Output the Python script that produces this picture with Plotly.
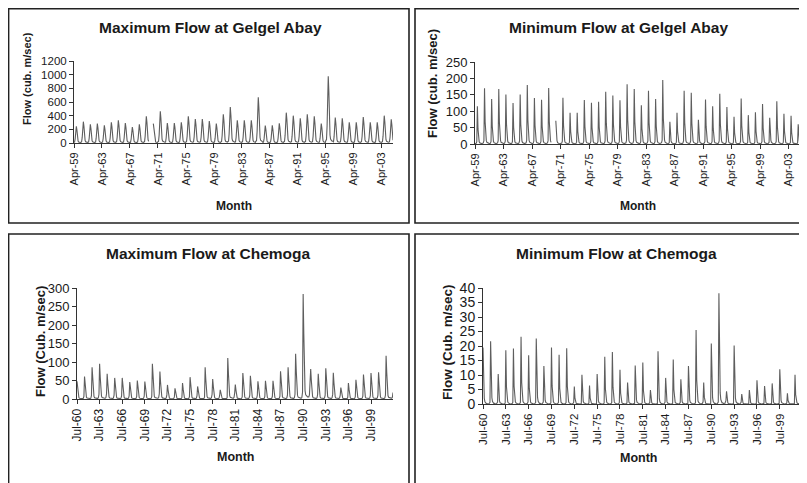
import plotly.graph_objects as go
import pandas as pd
import numpy as np

# ---------------- data ----------------
# Gelgel Abay: annual flood peaks, water years starting April 1959 .. 2004
gelgel_max_peak = [244, 312, 273, 283, 259, 302, 332, 293, 234, 273,
                   390, 283, 463, 293, 293, 302, 390, 351, 351, 322,
                   283, 420, 527, 332, 332, 332, 668, 254, 259, 288,
                   444, 400, 361, 420, 390, 283, 976, 371, 361, 302,
                   302, 380, 302, 302, 400, 346]
gelgel_min_peak = [115, 170, 137, 168, 151, 125, 151, 180, 140, 135,
                   171, 71, 141, 95, 95, 134, 126, 129, 159, 148,
                   133, 182, 168, 118, 162, 137, 195, 68, 95, 162,
                   156, 74, 136, 115, 153, 113, 83, 139, 88, 97,
                   122, 80, 130, 92, 86, 60]
# Chemoga: annual peaks, years starting July 1960 .. 2001
chemoga_max_peak = [48, 61, 86, 95, 68, 57, 57, 46, 50, 47,
                    95, 74, 38, 29, 43, 59, 34, 86, 54, 25,
                    111, 39, 70, 63, 48, 49, 49, 75, 86, 122,
                    284, 81, 68, 83, 71, 31, 43, 52, 66, 70,
                    72, 117]
chemoga_min_peak = [19.5, 21.6, 10.3, 18.5, 19.1, 23.2, 16.8, 22.6, 13.1, 19.5,
                    17.0, 19.2, 6.0, 10.1, 6.4, 10.3, 16.3, 17.9, 11.8, 7.4,
                    13.3, 14.3, 4.8, 18.2, 9.0, 15.3, 8.5, 13.1, 25.5, 7.4,
                    20.9, 38.2, 4.4, 20.2, 3.4, 4.8, 8.2, 6.2, 7.1, 12.0,
                    3.7, 10.1]

# seasonal shape of each year's hydrograph (fraction of the annual peak)
gelgel_max_shape = [0.04, 0.05, 0.25, 0.72, 1.0, 0.78, 0.32, 0.12, 0.06, 0.04, 0.03, 0.03]   # Apr..Mar
gelgel_min_shape = [0.01, 0.01, 0.02, 0.06, 1.0, 0.40, 0.14, 0.06, 0.03, 0.02, 0.01, 0.01]   # Apr..Mar
chemoga_max_shape = [1.0, 0.62, 0.25, 0.08, 0.04, 0.03, 0.02, 0.02, 0.02, 0.02, 0.04, 0.15]  # Jul..Jun
chemoga_min_shape = [1.0, 0.32, 0.10, 0.04, 0.02, 0.01, 0.01, 0.0, 0.0, 0.0, 0.01, 0.03]     # Jul..Jun

gelgel_start, gelgel_end = "1959-04-01", "2004-11-01"
chemoga_start, chemoga_end = "1960-07-01", "2002-06-01"
gelgel_gap = ("1970-01-01", "1970-07-01")      # missing record

titles = ["Maximum Flow at Gelgel Abay", "Minimum Flow at Gelgel Abay",
          "Maximum Flow at Chemoga", "Minimum Flow at Chemoga"]
ytitles = ["Flow (cub. m/sec)", "Flow (cub. m/sec)",
           "Flow (Cub. m/sec)", "Flow (Cub. m/sec)"]
xtitle = "Month"


def monthly(start, end, peaks, shape, gap=None):
    dates = pd.date_range(start, periods=len(peaks) * 12, freq="MS")
    vals = [p * f for p in peaks for f in shape]
    s = pd.Series(vals, index=dates, dtype=float)
    s = s[:end]
    if gap:
        s[gap[0]:gap[1]] = np.nan
    return list(s.index), [None if np.isnan(v) else v for v in s.values]


series = [
    monthly(gelgel_start, gelgel_end, gelgel_max_peak, gelgel_max_shape, gelgel_gap),
    monthly(gelgel_start, gelgel_end, gelgel_min_peak, gelgel_min_shape, gelgel_gap),
    monthly(chemoga_start, chemoga_end, chemoga_max_peak, chemoga_max_shape),
    monthly(chemoga_start, chemoga_end, chemoga_min_peak, chemoga_min_shape),
]

# the page puts the plot 8 px in from the window corner; the figure fills the rest
OFF = 8
W, H = 807 - OFF, 483 - OFF
def fx(x): return (x - OFF) / W
def fy(y): return 1 - (y - OFF) / H

FONT = "Liberation Sans, Arial, sans-serif"
TXT = "#1a1a1a"

# layout geometry (window pixels)
panels = [
    dict(xd=(74, 393), yd=(61, 143), yr=(0, 1200), dy=200, start=gelgel_start, end=gelgel_end, dt="M48",
         title=(210, 27), ytit=(27, 79), xtit=(234, 206), yfs=11.5, xfs=11, ytfs=11, mfs=12),
    dict(xd=(475, 800), yd=(62, 144), yr=(0, 250), dy=50, start=gelgel_start, end=gelgel_end, dt="M48",
         title=(618, 27), ytit=(432, 84), xtit=(638, 206), yfs=13, xfs=11, ytfs=13, mfs=12),
    dict(xd=(77, 393), yd=(288, 399), yr=(0, 300), dy=50, start=chemoga_start, end=chemoga_end, dt="M36",
         title=(208, 253), ytit=(40, 342), xtit=(235, 457), yfs=13, xfs=12, ytfs=13, mfs=12.5),
    dict(xd=(483, 802), yd=(288, 404), yr=(0, 40), dy=5, start=chemoga_start, end=chemoga_end, dt="M36",
         title=(616, 253), ytit=(447, 342), xtit=(638, 458), yfs=14, xfs=11.5, ytfs=13.5, mfs=12.5),
]

fig = go.Figure()
annotations = []
for i, (p, (xs, ys)) in enumerate(zip(panels, series)):
    k = "" if i == 0 else str(i + 1)
    fig.add_trace(go.Scatter(x=xs, y=ys, mode="lines", xaxis="x" + k, yaxis="y" + k,
                             line=dict(color="#5e5e5e", width=1.1), connectgaps=False,
                             showlegend=False, hoverinfo="skip"))
    fig.layout["xaxis" + k] = dict(
        domain=[fx(p["xd"][0]), fx(p["xd"][1])], anchor="y" + k, type="date",
        range=[p["start"], p["end"]], tick0=p["start"], dtick=p["dt"], tickformat="%b-%y",
        tickangle=-90, ticks="outside", ticklen=4, tickcolor="#333", showline=True,
        linecolor="#333", linewidth=1, showgrid=False, zeroline=False, automargin=False,
        tickfont=dict(family=FONT, size=p["xfs"], color=TXT))
    fig.layout["yaxis" + k] = dict(
        domain=[fy(p["yd"][1]), fy(p["yd"][0])], anchor="x" + k, range=list(p["yr"]),
        dtick=p["dy"], tick0=0, ticks="outside", ticklen=4, tickcolor="#333", showline=True,
        linecolor="#333", linewidth=1, showgrid=False, zeroline=False, automargin=False,
        tickfont=dict(family=FONT, size=p["yfs"], color=TXT))
    annotations.append(dict(text="<b>%s</b>" % titles[i], x=fx(p["title"][0]), y=fy(p["title"][1]),
                            xref="paper", yref="paper", showarrow=False, xanchor="center", yanchor="middle",
                            font=dict(family=FONT, size=15.5, color=TXT)))
    annotations.append(dict(text="<b>%s</b>" % ytitles[i], x=fx(p["ytit"][0]), y=fy(p["ytit"][1]),
                            xref="paper", yref="paper", showarrow=False, textangle=-90,
                            xanchor="center", yanchor="middle",
                            font=dict(family=FONT, size=p["ytfs"], color=TXT)))
    annotations.append(dict(text="<b>%s</b>" % xtitle, x=fx(p["xtit"][0]), y=fy(p["xtit"][1]),
                            xref="paper", yref="paper", showarrow=False, xanchor="center", yanchor="middle",
                            font=dict(family=FONT, size=p["mfs"], color=TXT)))

# panel frames (window pixels); the right and bottom ones run off the picture
frames = [(8.6, 8.6, 409, 223), (415, 8.6, 830, 223), (8.6, 234, 409, 520), (415, 234, 830, 520)]
shapes = [dict(type="rect", xref="paper", yref="paper", x0=fx(a), y0=fy(b), x1=fx(c), y1=fy(d),
               line=dict(color="#222222", width=1.6), layer="below") for a, b, c, d in frames]

fig.update_layout(width=W, height=H, margin=dict(l=0, r=0, t=0, b=0, pad=0, autoexpand=False),
                  paper_bgcolor="white", plot_bgcolor="white", showlegend=False,
                  annotations=annotations, shapes=shapes)
fig.write_html("out.html")
